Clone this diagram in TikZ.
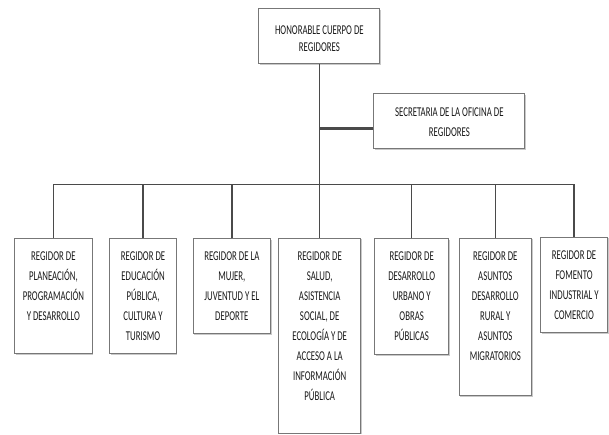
\documentclass[tikz,border=0pt]{standalone}
\usepackage{fontspec}
\newfontfamily\cf{Carlito}[FakeStretch=0.65]
\usetikzlibrary{shadows}
\definecolor{boxline}{HTML}{777777}
\definecolor{connline}{HTML}{4A4A4A}
\definecolor{txt}{HTML}{1A1A1A}
\newcommand{\bxt}[5]{\parbox[t][#2][t]{#1}{\centering\fontsize{13.5}{#5}\selectfont\vspace*{#3}\strut #4}}
\tikzset{
  orgbox/.style={draw=boxline, line width=1.1pt, fill=white, inner sep=0pt, anchor=north west,
    text=txt, font=\cf,
    drop shadow={shadow xshift=1pt, shadow yshift=-1.2pt, opacity=0.35, fill=black!60}},
  conn/.style={draw=connline, line width=1.4pt},
  connthick/.style={draw=connline, line width=2.6pt}
}
\begin{document}
\begin{tikzpicture}[x=1pt,y=-1pt]
\useasboundingbox[fill=white] (0,0) rectangle (609,434);
\node[orgbox] (top) at (258.3,8.3) {\bxt{121pt}{55pt}{14pt}{HONORABLE CUERPO DE\\REGIDORES}{17}};
\node[orgbox] (sec) at (373.3,93.3) {\bxt{151pt}{55pt}{8.7pt}{SECRETARIA DE LA OFICINA DE\\REGIDORES}{20}};
\node[orgbox] (b1) at (14,238.3) {\bxt{77.7pt}{114.5pt}{8pt}{REGIDOR DE\\PLANEACIÓN,\\PROGRAMACIÓN\\Y DESARROLLO}{20}};
\node[orgbox] (b2) at (109.3,238.3) {\bxt{66.4pt}{115pt}{8pt}{REGIDOR DE\\EDUCACIÓN\\PÚBLICA,\\CULTURA Y\\TURISMO}{20}};
\node[orgbox] (b3) at (192.5,238.3) {\bxt{77.5pt}{95pt}{8pt}{REGIDOR DE LA\\MUJER,\\JUVENTUD Y EL\\DEPORTE}{20}};
\node[orgbox] (b4) at (278,237.5) {\bxt{82.3pt}{195pt}{8.8pt}{REGIDOR DE\\SALUD,\\ASISTENCIA\\SOCIAL, DE\\ECOLOGÍA Y DE\\ACCESO A LA\\INFORMACIÓN\\PÚBLICA}{20}};
\node[orgbox] (b5) at (374,238.3) {\bxt{74.3pt}{115.5pt}{8pt}{REGIDOR DE\\DESARROLLO\\URBANO Y\\OBRAS\\PÚBLICAS}{20}};
\node[orgbox] (b6) at (458.5,237.5) {\bxt{72.5pt}{157.5pt}{8.8pt}{REGIDOR DE\\ASUNTOS\\DESARROLLO\\RURAL Y\\ASUNTOS\\MIGRATORIOS}{20}};
\node[orgbox] (b7) at (540,236.5) {\bxt{67pt}{95.5pt}{8.5pt}{REGIDOR DE\\FOMENTO\\INDUSTRIAL Y\\COMERCIO}{20}};
\coordinate (bus) at (0,184.3);
\coordinate (sj) at ([yshift=-7pt]sec.west);
\draw[conn] (top.south) -- (top.south |- b4.north);
\draw[connthick] (sj) -- (sj -| top.south);
\draw[conn] (b1.north) -- (b1.north |- bus) -- (b7.north |- bus) -- (b7.north);
\foreach \b in {b2,b3,b5,b6}{\draw[conn] (\b.north) -- (\b.north |- bus);}
\end{tikzpicture}
\end{document}
